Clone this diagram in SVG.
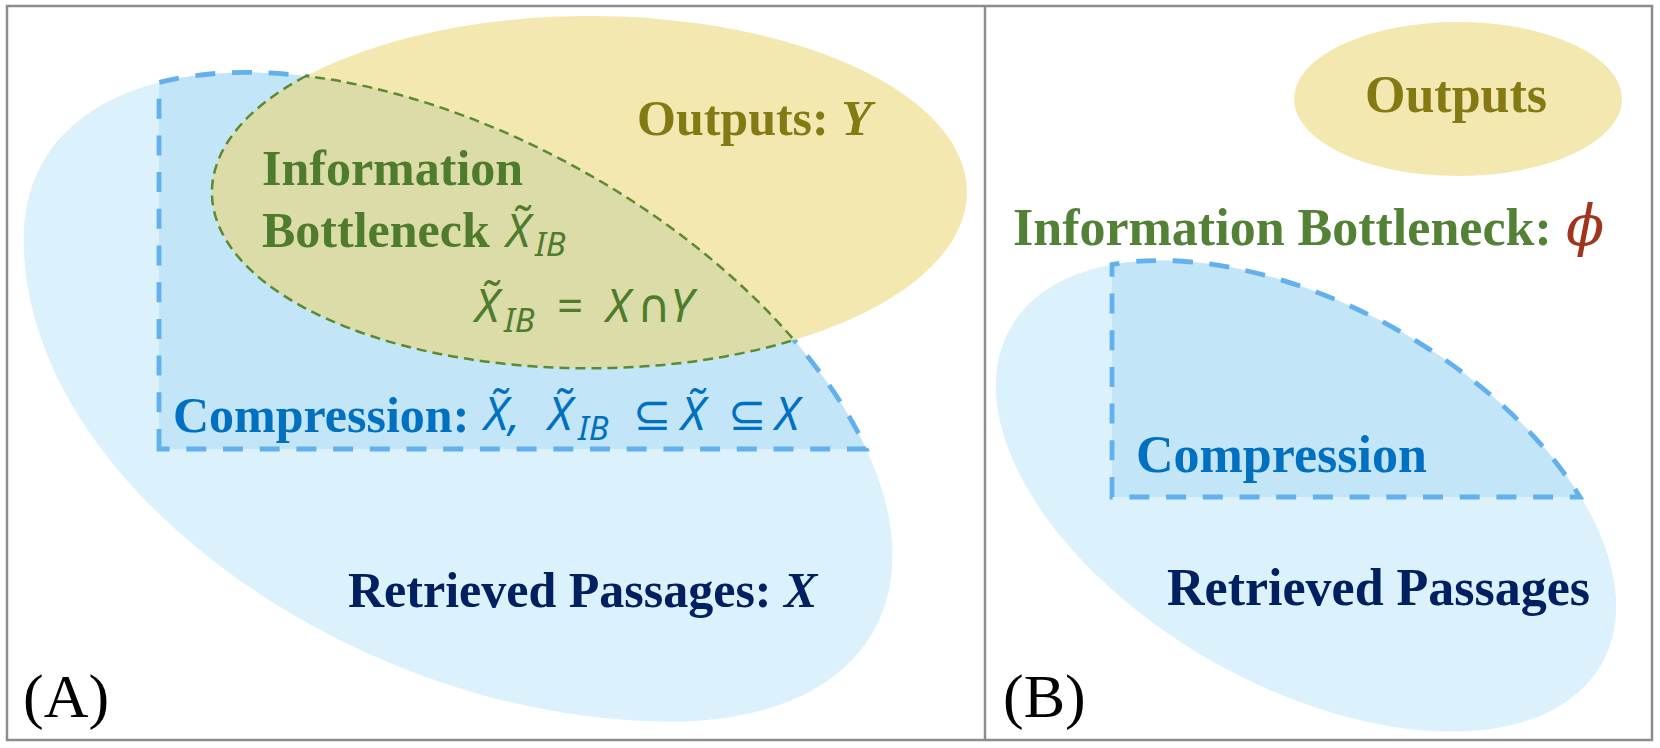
<svg xmlns="http://www.w3.org/2000/svg" width="1660" height="748" viewBox="0 0 1660 748">
<defs>
<style>
.lbl{font-family:"Liberation Serif","Times New Roman",serif;font-weight:bold;font-size:50px}
.lblb{font-size:52px}
.math{font-family:"Noto Sans","DejaVu Sans",sans-serif;font-style:italic;font-size:46px}
.up{font-style:normal}
.sub{font-size:33px}
.olive{fill:#847a14}
.green{fill:#4f7b2d}
.green2{fill:#538135}
.blue{fill:#0070c0}
.navy{fill:#002060}
.retr{fill:#dbf1fc}
.comp{fill:#c3e5f8}
.dash{fill:none;stroke:#62b0ee;stroke-width:4.8;stroke-dasharray:20 16.7}
.yel{fill:#f3e8b0}
.inter{fill:#dbdca7}
.gdash{fill:none;stroke:#5a8a32;stroke-width:2.5;stroke-dasharray:10 6}
.tag{font-family:"Liberation Serif","Times New Roman",serif;font-size:62px;fill:#000}
.phi{font-family:"DejaVu Serif",serif;font-style:italic;font-size:56px;fill:#a0341c}
.frame{fill:none;stroke:#8c8c8c;stroke-width:2.5}
</style>
</defs>
<rect x="0" y="0" width="1660" height="748" fill="#ffffff"/>
<g id="panel-a">
  <g id="a-retrieved">
    <path class="retr" d="M159,82.4 A477,258 29.4 0 1 892.4,555.5 A477,258 29.4 0 1 670.1,721.6 C360.1,721.6 23.6,488.5 23.6,238.5 A477,258 29.4 0 1 159,82.4 Z"/>
  </g>
  <g id="a-compression">
    <path class="comp" d="M159,449 L159,82.4 A477,258 29.4 0 1 866.2,449 Z"/>
    <path class="dash" d="M159,449 L159,82.4 A477,258 29.4 0 1 866.2,449 Z"/>
  </g>
  <g id="a-outputs">
    <ellipse class="yel" cx="590" cy="192" rx="377" ry="176"/>
    <text class="lbl olive" x="637" y="135">Outputs: <tspan font-style="italic">Y</tspan></text>
  </g>
  <g id="a-ib">
    <path class="inter" d="M306,76 A377,176 0 0 0 794,340 A477,258 29.4 0 0 306,76 Z"/>
    <path class="gdash" d="M306,76 A377,176 0 0 0 794,340 A477,258 29.4 0 0 306,76 Z"/>
    <text class="lbl green" x="262" y="185">Information</text>
    <text class="lbl green" x="262" y="247">Bottleneck</text>
    <text class="math green"><tspan x="506" y="247">X&#x303;</tspan><tspan class="sub" x="535" y="256">IB</tspan></text>
    <text class="math green"><tspan x="475" y="322">X&#x303;</tspan><tspan class="sub" x="504" y="332">IB</tspan><tspan class="up" x="557" y="322">=</tspan><tspan x="606" y="322">X</tspan><tspan class="up" x="637" y="322">∩</tspan><tspan x="670" y="322">Y</tspan></text>
  </g>
  <g id="a-compression-label">
    <text class="lbl blue" x="173" y="432">Compression:</text>
    <text class="math blue"><tspan x="484" y="430">X&#x303;,</tspan><tspan x="548" y="430">X&#x303;</tspan><tspan class="sub" x="578" y="440">IB</tspan><tspan class="up" x="633" y="430">⊆</tspan><tspan x="681" y="430">X&#x303;</tspan><tspan class="up" x="728" y="430">⊆</tspan><tspan x="775" y="430">X</tspan></text>
  </g>
  <g id="a-retrieved-label">
    <text class="lbl navy" x="348" y="607">Retrieved Passages: <tspan font-style="italic">X</tspan></text>
  </g>
  <text class="tag" x="23" y="717">(A)</text>
</g>
<g id="panel-b">
  <g id="b-retrieved">
    <ellipse class="retr" cx="1306" cy="496" rx="340" ry="190" transform="rotate(29.6 1306 496)"/>
  </g>
  <g id="b-compression">
    <path class="comp" d="M1112,497 L1112,264.6 A340,190 29.6 0 1 1580,497 Z"/>
    <path class="dash" d="M1112,497 L1112,264.6 A340,190 29.6 0 1 1580,497 Z"/>
    <text class="lbl lblb blue" x="1136" y="472">Compression</text>
  </g>
  <g id="b-outputs">
    <ellipse class="yel" cx="1458" cy="99" rx="164" ry="77"/>
    <text class="lbl lblb olive" x="1365" y="112">Outputs</text>
  </g>
  <g id="b-ib">
    <text class="lbl lblb green2" x="1013" y="245">Information Bottleneck:</text>
    <text class="phi" x="1566" y="245">ϕ</text>
  </g>
  <g id="b-retrieved-label">
    <text class="lbl lblb navy" x="1167" y="605">Retrieved Passages</text>
  </g>
  <text class="tag" x="1003" y="717">(B)</text>
</g>
<g id="connectors"></g>
<g id="frame">
  <rect class="frame" x="7" y="6" width="1645" height="734"/>
  <line class="frame" x1="985" y1="6" x2="985" y2="740"/>
</g>
</svg>
